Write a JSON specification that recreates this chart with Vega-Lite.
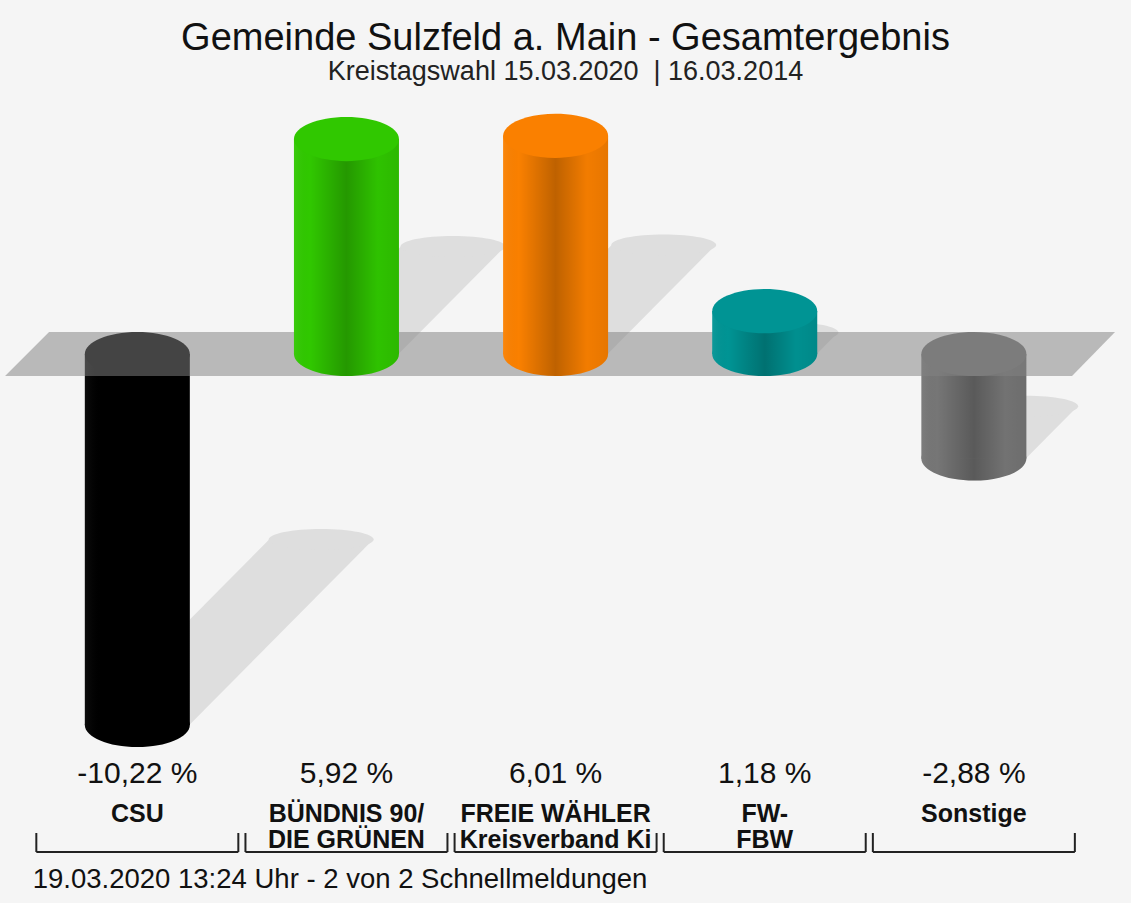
{
  "$schema": "https://vega.github.io/schema/vega-lite/v6.json",
  "width": 1131,
  "height": 808,
  "autosize": {"type": "none"},
  "padding": {"left": 0, "right": 0, "top": 95, "bottom": 0},
  "background": "#f5f5f5",
  "title": {
    "text": "Gemeinde Sulzfeld a. Main - Gesamtergebnis",
    "subtitle": "Kreistagswahl 15.03.2020\u00a0\u00a0| 16.03.2014",
    "font": "Liberation Sans",
    "subtitleFont": "Liberation Sans",
    "fontSize": 38,
    "subtitleFontSize": 27,
    "fontWeight": "normal",
    "color": "#111111",
    "subtitleColor": "#222222",
    "anchor": "middle",
    "offset": 10,
    "subtitlePadding": 1
  },
  "data": {
    "values": [
      {"i": 1, "party": "CSU", "label": "CSU", "value": -10.22},
      {"i": 2, "party": "GRÜNE", "label": "BÜNDNIS 90/\nDIE GRÜNEN", "value": 5.92},
      {"i": 3, "party": "FREIE WÄHLER", "label": "FREIE WÄHLER\nKreisverband Ki", "value": 6.01},
      {"i": 4, "party": "FW-FBW", "label": "FW-\nFBW", "value": 1.18},
      {"i": 5, "party": "Sonstige", "label": "Sonstige", "value": -2.88}
    ]
  },
  "encoding": {
    "x": {
      "field": "i", "type": "quantitative",
      "scale": {"domain": [0.3673, 5.7275], "nice": false, "zero": false},
      "axis": null
    },
    "y": {
      "field": "value", "type": "quantitative",
      "scale": {"domain": [-15.124, 7.135], "nice": false, "zero": false},
      "axis": null
    }
  },
  "layer": [
    {
      "transform": [
        {"calculate": "min(datum.value, 0)", "as": "sb"},
        {"calculate": "0.5 * datum.value", "as": "st"},
        {"fold": ["sb", "st"], "as": ["end", "sy"]},
        {"calculate": "datum.i + (datum.end == 'st' ? 0.08602 * abs(datum.value) : 0)", "as": "sxc"},
        {"calculate": "datum.sxc - 0.2488", "as": "sxl"},
        {"calculate": "datum.sxc + 0.2488", "as": "sxr"}
      ],
      "mark": {"type": "area", "orient": "horizontal", "color": "#dedede", "opacity": 1},
      "encoding": {
        "y": {"field": "sy", "type": "quantitative", "scale": {"domain": [-15.124, 7.135], "nice": false, "zero": false}, "axis": null},
        "x": {"field": "sxl", "type": "quantitative", "scale": {"domain": [0.3673, 5.7275], "nice": false, "zero": false}, "axis": null},
        "x2": {"field": "sxr"},
        "detail": {"field": "party"}
      }
    },
    {
      "transform": [
        {"calculate": "0.5 * datum.value", "as": "st"},
        {"calculate": "datum.i + 0.08602 * abs(datum.value)", "as": "sxc"}
      ],
      "mark": {"type": "point", "shape": "M-1,0A1,0.2,0,1,0,1,0A1,0.2,0,1,0,-1,0Z", "size": 11025, "filled": true, "color": "#dedede", "opacity": 1, "strokeWidth": 0},
      "encoding": {
        "y": {"field": "st", "type": "quantitative", "scale": {"domain": [-15.124, 7.135], "nice": false, "zero": false}, "axis": null},
        "x": {"field": "sxc", "type": "quantitative", "scale": {"domain": [0.3673, 5.7275], "nice": false, "zero": false}, "axis": null}
      }
    },
    {
      "transform": [{"filter": "datum.value < 0"}],
      "mark": {"type": "point", "shape": "M-1,0A1,0.42,0,1,0,1,0A1,0.42,0,1,0,-1,0Z", "size": 11025, "filled": true, "opacity": 1, "strokeWidth": 0},
      "encoding": {
        "color": {"field": "party", "type": "nominal", "legend": null,
          "scale": {"domain": ["CSU", "GRÜNE", "FREIE WÄHLER", "FW-FBW", "Sonstige"], "range": ["#000000", "#30c800", "#fa8000", "#009494", "#767676"]}}
      }
    },
    {
      "transform": [{"filter": "datum.value < 0"}],
      "mark": {"type": "point", "shape": "M-1,0A1,0.42,0,1,0,1,0A1,0.42,0,1,0,-1,0Z", "size": 11025, "filled": true, "opacity": 1, "strokeWidth": 0,
        "color": {"gradient": "linear", "x1": 0, "y1": 0, "x2": 1, "y2": 0, "stops": [
          {"offset": 0, "color": "rgba(255,255,255,0.05)"},
          {"offset": 0.15, "color": "rgba(0,0,0,0)"},
          {"offset": 0.5, "color": "rgba(0,0,0,0.24)"},
          {"offset": 0.8, "color": "rgba(0,0,0,0.03)"},
          {"offset": 1, "color": "rgba(0,0,0,0.08)"}]}}
    },
    {
      "transform": [{"filter": "datum.value < 0"}],
      "mark": {"type": "bar", "width": 105},
      "encoding": {
        "y2": {"datum": 0},
        "color": {"field": "party", "type": "nominal", "legend": null}
      }
    },
    {
      "transform": [{"filter": "datum.value < 0"}],
      "mark": {"type": "bar", "width": 105,
        "color": {"gradient": "linear", "x1": 0, "y1": 0, "x2": 1, "y2": 0, "stops": [
          {"offset": 0, "color": "rgba(255,255,255,0.05)"},
          {"offset": 0.15, "color": "rgba(0,0,0,0)"},
          {"offset": 0.5, "color": "rgba(0,0,0,0.24)"},
          {"offset": 0.8, "color": "rgba(0,0,0,0.03)"},
          {"offset": 1, "color": "rgba(0,0,0,0.08)"}]}},
      "encoding": {"y2": {"datum": 0}}
    },
    {
      "transform": [{"filter": "datum.value < 0"}],
      "mark": {"type": "point", "shape": "M-1,0A1,0.42,0,1,0,1,0A1,0.42,0,1,0,-1,0Z", "size": 11025, "filled": true, "opacity": 1, "strokeWidth": 0},
      "encoding": {
        "y": {"datum": 0, "axis": null},
        "color": {"field": "party", "type": "nominal", "legend": null}
      }
    },
    {
      "transform": [{"filter": "datum.i == 1"}],
      "mark": {"type": "point", "shape": "M-1,0.0396L0.9225,0.0396L1,-0.0396L-0.9207,-0.0396Z", "size": 1232100, "filled": true, "color": "#828282", "opacity": 0.52, "strokeWidth": 0},
      "encoding": {
        "x": {"datum": 3.0213, "axis": null},
        "y": {"datum": 0, "axis": null}
      }
    },
    {
      "transform": [{"filter": "datum.value > 0"}],
      "mark": {"type": "point", "shape": "M-1,0A1,0.42,0,1,0,1,0A1,0.42,0,1,0,-1,0Z", "size": 11025, "filled": true, "opacity": 1, "strokeWidth": 0},
      "encoding": {
        "y": {"datum": 0, "axis": null},
        "color": {"field": "party", "type": "nominal", "legend": null}
      }
    },
    {
      "transform": [{"filter": "datum.value > 0"}],
      "mark": {"type": "point", "shape": "M-1,0A1,0.42,0,1,0,1,0A1,0.42,0,1,0,-1,0Z", "size": 11025, "filled": true, "opacity": 1, "strokeWidth": 0,
        "color": {"gradient": "linear", "x1": 0, "y1": 0, "x2": 1, "y2": 0, "stops": [
          {"offset": 0, "color": "rgba(255,255,255,0.05)"},
          {"offset": 0.15, "color": "rgba(0,0,0,0)"},
          {"offset": 0.5, "color": "rgba(0,0,0,0.24)"},
          {"offset": 0.8, "color": "rgba(0,0,0,0.03)"},
          {"offset": 1, "color": "rgba(0,0,0,0.08)"}]}},
      "encoding": {"y": {"datum": 0, "axis": null}}
    },
    {
      "transform": [{"filter": "datum.value > 0"}],
      "mark": {"type": "bar", "width": 105},
      "encoding": {
        "y2": {"datum": 0},
        "color": {"field": "party", "type": "nominal", "legend": null}
      }
    },
    {
      "transform": [{"filter": "datum.value > 0"}],
      "mark": {"type": "bar", "width": 105,
        "color": {"gradient": "linear", "x1": 0, "y1": 0, "x2": 1, "y2": 0, "stops": [
          {"offset": 0, "color": "rgba(255,255,255,0.05)"},
          {"offset": 0.15, "color": "rgba(0,0,0,0)"},
          {"offset": 0.5, "color": "rgba(0,0,0,0.24)"},
          {"offset": 0.8, "color": "rgba(0,0,0,0.03)"},
          {"offset": 1, "color": "rgba(0,0,0,0.08)"}]}},
      "encoding": {"y2": {"datum": 0}}
    },
    {
      "transform": [{"filter": "datum.value > 0"}],
      "mark": {"type": "point", "shape": "M-1,0A1,0.42,0,1,0,1,0A1,0.42,0,1,0,-1,0Z", "size": 11025, "filled": true, "opacity": 1, "strokeWidth": 0},
      "encoding": {
        "color": {"field": "party", "type": "nominal", "legend": null}
      }
    },
    {
      "transform": [{"calculate": "(datum.value < 0 ? '-' : '') + replace(format(abs(datum.value), '.2f'), '.', ',') + ' %'", "as": "lab"}],
      "mark": {"type": "text", "font": "Liberation Sans", "fontSize": 30, "color": "#111111", "align": "center", "baseline": "alphabetic"},
      "encoding": {
        "y": {"datum": -11.818, "axis": null},
        "text": {"field": "lab"}
      }
    },
    {
      "mark": {"type": "text", "font": "Liberation Sans", "fontSize": 25, "fontWeight": "bold", "color": "#111111", "align": "center", "baseline": "alphabetic", "lineBreak": "\n", "lineHeight": 26},
      "encoding": {
        "y": {"datum": -12.893, "axis": null},
        "text": {"field": "label"}
      }
    },
    {
      "mark": {"type": "rule", "color": "#222222", "strokeWidth": 2, "xOffset": -101, "x2Offset": 101},
      "encoding": {
        "x2": {"field": "i"},
        "y": {"datum": -13.719, "axis": null}
      }
    },
    {
      "mark": {"type": "rule", "color": "#222222", "strokeWidth": 2, "xOffset": -101},
      "encoding": {
        "y": {"datum": -13.196, "axis": null},
        "y2": {"datum": -13.719}
      }
    },
    {
      "mark": {"type": "rule", "color": "#222222", "strokeWidth": 2, "xOffset": 101},
      "encoding": {
        "y": {"datum": -13.196, "axis": null},
        "y2": {"datum": -13.719}
      }
    },
    {
      "transform": [{"filter": "datum.i == 1"}],
      "mark": {"type": "text", "font": "Liberation Sans", "fontSize": 27.5, "color": "#111111", "align": "left", "baseline": "alphabetic", "text": "19.03.2020 13:24 Uhr - 2 von 2 Schnellmeldungen"},
      "encoding": {
        "x": {"datum": 0.5, "axis": null},
        "y": {"datum": -14.711, "axis": null}
      }
    }
  ],
  "config": {
    "view": {"stroke": null},
    "font": "Liberation Sans"
  }
}
